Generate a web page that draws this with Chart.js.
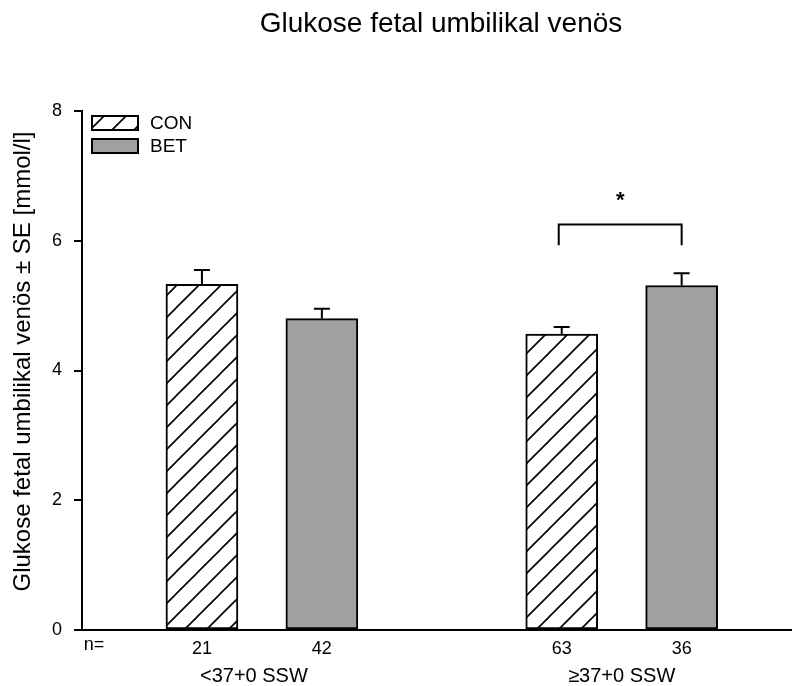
<!DOCTYPE html>
<html><head><meta charset="utf-8">
<script src="https://cdn.jsdelivr.net/npm/chart.js@4"></script>
<style>html,body{margin:0;padding:0;background:#fff}#wrap{width:792px;height:686px;position:relative}</style>
</head><body><div id="wrap"><canvas id="c"></canvas></div>
<script>
// ---- data ----
const chartTitle = 'Glukose fetal umbilikal venös';
const yTitle = 'Glukose fetal umbilikal venös ± SE [mmol/l]';
const groups = ['<37+0 SSW', '≥37+0 SSW'];
const seriesNames = ['CON', 'BET'];
const conValues = [5.33, 4.56];
const betValues = [4.80, 5.31];
const conSE = [0.22, 0.11];
const betSE = [0.15, 0.19];
const conN = ['21', '63'];
const betN = ['42', '36'];
const yTicks = [0, 2, 4, 6, 8];
const sigGroup = 1;          // group with significance bracket
const sigBracketY = 6.25;    // bracket top (data units)
const sigLegY = 5.93;        // bracket legs end
const sigMark = '*';

// ---- derived slots: each group has 2 bars, one empty slot between groups ----
const slotOf = (g, s) => g * 3 + s + 1;
const FONT = '"Liberation Sans", Arial, sans-serif';
const hatch = (() => {
  const s = 22, c = document.createElement('canvas');
  c.width = s; c.height = s;
  const x = c.getContext('2d');
  x.fillStyle = '#fff'; x.fillRect(0, 0, s, s);
  x.strokeStyle = '#000'; x.lineWidth = 1.6;
  x.beginPath();
  x.moveTo(-2, s + 2); x.lineTo(s + 2, -2);
  x.moveTo(-2, 2); x.lineTo(2, -2);
  x.moveTo(s - 2, s + 2); x.lineTo(s + 2, s - 2);
  x.stroke();
  return x.createPattern(c, 'repeat');
})();
const GRAY = '#a0a0a0';
const fills = [hatch, GRAY];
const seValues = [conSE, betSE];
const nLabels = [conN, betN];
const allVals = [conValues, betValues];

const datasets = seriesNames.map((name, s) => ({
  label: name,
  data: groups.map((g, gi) => ({ x: slotOf(gi, s), y: allVals[s][gi] })),
  backgroundColor: fills[s],
  borderColor: '#000',
  borderWidth: 2,
  borderSkipped: false,
  barThickness: 72,
  grouped: false
}));

const tickTextMap = {};
groups.forEach((g, gi) => seriesNames.forEach((n, s) => { tickTextMap[slotOf(gi, s)] = nLabels[s][gi]; }));

const extras = {
  id: 'extras',
  afterDatasetsDraw(chart) {
    const ctx = chart.ctx, ys = chart.scales.y, xs = chart.scales.x;
    ctx.save();
    ctx.strokeStyle = '#000'; ctx.lineWidth = 2;
    // error bars (upper only)
    chart.data.datasets.forEach((ds, s) => {
      const meta = chart.getDatasetMeta(s);
      meta.data.forEach((el, i) => {
        const top = ys.getPixelForValue(ds.data[i].y + seValues[s][i]);
        ctx.beginPath();
        ctx.moveTo(el.x, el.y); ctx.lineTo(el.x, top);
        ctx.moveTo(el.x - 8, top); ctx.lineTo(el.x + 8, top);
        ctx.stroke();
      });
    });
    // significance bracket
    const xl = chart.getDatasetMeta(0).data[sigGroup].x - 3;
    const xr = chart.getDatasetMeta(1).data[sigGroup].x;
    const yb = ys.getPixelForValue(sigBracketY), yl = ys.getPixelForValue(sigLegY);
    ctx.beginPath();
    ctx.moveTo(xl, yl); ctx.lineTo(xl, yb); ctx.lineTo(xr, yb); ctx.lineTo(xr, yl);
    ctx.stroke();
    ctx.fillStyle = '#000';
    ctx.font = 'bold 22px ' + FONT;
    ctx.textAlign = 'center'; ctx.textBaseline = 'middle';
    ctx.fillText(sigMark, (xl + xr) / 2, yb - 24);
    // legend
    const ca = chart.chartArea;
    ctx.font = '19px ' + FONT;
    ctx.textAlign = 'left';
    seriesNames.forEach((n, s) => {
      const bx = ca.left + 10, by = ca.top + 5 + s * 23;
      ctx.fillStyle = fills[s];
      ctx.fillRect(bx, by, 46, 14);
      ctx.lineWidth = 2; ctx.strokeRect(bx, by, 46, 14);
      ctx.fillStyle = '#000';
      ctx.fillText(n, bx + 58, by + 8);
    });
    // n= and group labels
    ctx.font = '18px ' + FONT;
    ctx.textAlign = 'center';
    ctx.fillText('n=', ca.left + 12, ca.bottom + 15);
    ctx.font = '20px ' + FONT;
    groups.forEach((g, gi) => {
      const cx = (xs.getPixelForValue(slotOf(gi, 0)) + xs.getPixelForValue(slotOf(gi, 1))) / 2;
      ctx.fillText(g, cx - (gi === 0 ? 8 : 0), ca.bottom + 46);
    });
    // y-axis title
    ctx.save();
    ctx.font = '24px ' + FONT;
    ctx.translate(23, (ca.top + ca.bottom) / 2 - 9);
    ctx.rotate(-Math.PI / 2);
    ctx.fillText(yTitle, 0, 0);
    ctx.restore();
    // title
    ctx.font = '28px ' + FONT;
    ctx.textBaseline = 'alphabetic';
    ctx.fillText(chartTitle, (ca.left + ca.right) / 2 + 4, 32);
    ctx.restore();
  }
};

new Chart(document.getElementById('c'), {
  type: 'bar',
  data: { datasets },
  options: {
    responsive: true, maintainAspectRatio: false, animation: false,
    layout: { padding: { top: 111, right: 0, left: 0, bottom: 0 } },
    plugins: { legend: { display: false }, tooltip: { enabled: false }, title: { display: false } },
    scales: {
      x: {
        type: 'linear', min: 0, max: 5.92, offset: false,
        afterBuildTicks: sc => { sc.ticks = Object.keys(tickTextMap).map(v => ({ value: +v })); },
        afterFit: sc => { sc.height = 56; },
        ticks: { callback: v => tickTextMap[v] || '', color: '#000', padding: 0, autoSkip: false, maxRotation: 0,
                 font: { size: 18, family: FONT } },
        grid: { display: false },
        border: { display: true, color: '#000', width: 2 }
      },
      y: {
        min: 0, max: 8,
        afterBuildTicks: sc => { sc.ticks = yTicks.map(v => ({ value: v })); },
        afterFit: sc => { sc.width = 82; },
        ticks: { color: '#000', padding: 12, font: { size: 18, family: FONT } },
        grid: { display: true, drawOnChartArea: false, drawTicks: true, tickLength: 8, color: '#000', lineWidth: 2 },
        border: { display: true, color: '#000', width: 2 }
      }
    }
  },
  plugins: [extras]
});
</script></body></html>
